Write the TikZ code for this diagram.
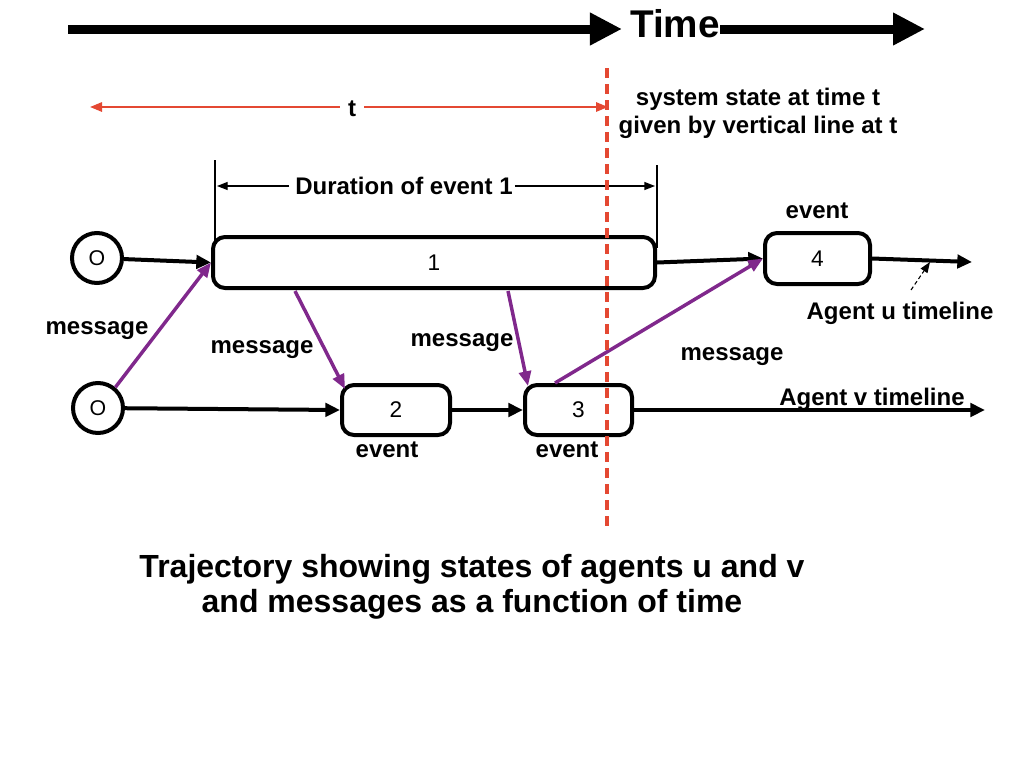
\documentclass[tikz,border=0pt]{standalone}
\usepackage{fontspec}
\setmainfont{Liberation Sans}
\usetikzlibrary{arrows.meta,calc}
\definecolor{tred}{RGB}{228,72,50}
\definecolor{msgc}{RGB}{128,40,140}
\begin{document}
\begin{tikzpicture}[x=0.75pt,y=-0.75pt,
  lbl/.style={font=\fontsize{18}{21}\selectfont\bfseries,inner sep=0pt},
  evbox/.style={draw,line width=3pt,rounded corners=9pt,fill=white,inner sep=0pt,font=\fontsize{17}{19}\selectfont},
  startc/.style={draw,circle,line width=3pt,fill=white,minimum size=37.5pt,inner sep=0pt,font=\fontsize{16}{18}\selectfont},
  flow/.style={line width=3pt,-{Triangle[length=11pt,width=10pt]}},
  msgarrow/.style={draw=msgc,line width=2.6pt,-{Triangle[length=11pt,width=9pt]},color=msgc},
  bigarrow/.style={line width=6.75pt,-{Triangle[length=24pt,width=23pt]}},
  thinarrow/.style={line width=1pt,-{Triangle[length=8pt,width=6pt]}},
  redarrow/.style={tred,line width=1.5pt,-{Triangle[length=9pt,width=7pt]}}
]
\useasboundingbox (0,0) rectangle (1024,768);

% Time axis
\node[font=\fontsize{29}{32}\selectfont\bfseries,inner sep=0pt] (time) at (675,24) {Time};
\coordinate (tstart) at (68,29);
\coordinate (tend) at (925,29);
\draw[bigarrow] (tstart) -- ($(time.west)+(-8,5)$);
\draw[bigarrow] ($(time.east)+(0,5)$) -- (tend);

% t interval
\node[lbl] (t) at (352,109) {t};
\coordinate (tl) at (90,107);
\coordinate (tr) at (608,107);
\draw[redarrow] ($(t.west)+(-8,-2)$) -- (tl);
\draw[redarrow] ($(t.east)+(8,-2)$) -- (tr);

\node[lbl,align=center] (sys) at (758,113) {system state at time t\\given by vertical line at t};

% duration
\coordinate (dl1) at (215,160);
\coordinate (dl2) at (215,258);
\coordinate (dr1) at (657,165);
\coordinate (dr2) at (657,248);
\draw[line width=1pt] (dl1) -- (dl2);
\draw[line width=1pt] (dr1) -- (dr2);
\node[lbl] (dur) at (404,186) {Duration of event 1};
\draw[thinarrow] ($(dur.west)+(-6,0)$) -- (217,186);
\draw[thinarrow] ($(dur.east)+(2,0)$) -- (655,186);

% nodes
\node[startc] (cu) at (97,258) {O};
\node[startc] (cv) at (98,408) {O};
\node[evbox,minimum width=331.5pt,minimum height=38.25pt] (b1) at (434,262.5) {1};
\node[evbox,minimum width=78.75pt,minimum height=38.25pt] (b4) at (817.5,258.5) {4};
\node[evbox,minimum width=81pt,minimum height=37.5pt] (b2) at (396,410) {2};
\node[evbox,minimum width=80.25pt,minimum height=37.5pt] (b3) at (578.5,410) {3};

\coordinate (uend) at (972,262);
\coordinate (vend) at (985,410);

% timelines
\draw[flow] (cu) -- (b1.west);
\draw[flow] (b1.east) -- (b4.west);
\draw[flow] (b4.east) -- (uend);
\draw[flow] (cv) -- (b2.west);
\draw[flow] (b2.east) -- (b3.west);
\draw[flow] (b3.east) -- (vend);

% labels
\node[lbl] (ev4) at (817,211) {event};
\node[lbl] (ev2) at (387,450) {event};
\node[lbl] (ev3) at (567,450) {event};
\node[lbl] (ul) at (900,313) {Agent u timeline};
\node[lbl] (vl) at (872,399) {Agent v timeline};
\coordinate (ua) at (911,290);
\coordinate (ub) at (930,262);
\draw[thinarrow,dashed,line width=0.8pt,dash pattern=on 3pt off 2pt] (ua) -- (ub);

% messages
\draw[msgarrow] (cv.50) -- (b1.west);
\draw[msgarrow] ($(b1.south west)+(84,1)$) -- ($(b2.north west)+(5,6)$);
\draw[msgarrow] ($(b1.south west)+(297,1)$) -- ($(b3.north west)+(5,3)$);
\draw[msgarrow] ($(b3.north west)+(32,0)$) -- (b4.west);
\node[lbl] (m1) at (97,331) {message};
\node[lbl] (m2) at (262,350) {message};
\node[lbl] (m3) at (462,343) {message};
\node[lbl] (m4) at (732,357) {message};

% vertical time line
\coordinate (vt1) at (607,68);
\coordinate (vt2) at (607,532);
\draw[tred,line width=3pt,dash pattern=on 7.5pt off 4.5pt] (vt1) -- (vt2);

% caption
\node[font=\fontsize{24}{26.5}\selectfont\bfseries,align=center,inner sep=0pt] (cap) at (472,587) {Trajectory showing states of agents u and v\\and messages as a function of time};
\end{tikzpicture}
\end{document}
